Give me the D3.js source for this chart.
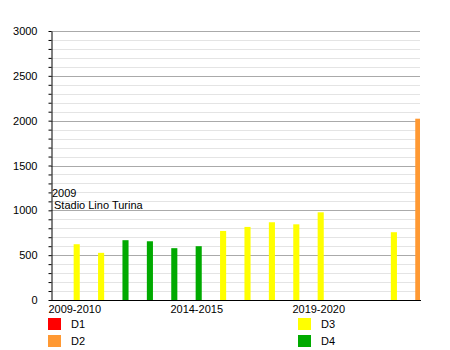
<!DOCTYPE html>
<html>
<head>
<meta charset="utf-8">
<script src="https://cdn.jsdelivr.net/npm/d3@7"></script>
<style>
body { margin: 0; background: #fff; }
svg { font-family: "Liberation Sans", Arial, sans-serif; font-size: 11px; }
</style>
</head>
<body>
<svg id="chart" width="450" height="350"></svg>
<script>
var seasons = ['2009-2010', '2010-2011', '2011-2012', '2012-2013', '2013-2014',
    '2014-2015', '2015-2016', '2016-2017', '2017-2018', '2018-2019',
    '2019-2020', '2020-2021', '2021-2022', '2022-2023', '2023-2024'];
var values = [622, 526, 667, 655, 578, 600, 770, 815, 867, 844, 978, null, null, 756, 2022];
var divisions = ['D3', 'D3', 'D4', 'D4', 'D4', 'D4', 'D3', 'D3', 'D3', 'D3', 'D3', null, null, 'D3', 'D2'];
var labelSeasons = ['2009-2010', '2014-2015', '2019-2020'];
var legendKeys = ['D1', 'D2', 'D3', 'D4'];
var legendColors = ['#ff0000', '#ff9933', '#ffff00', '#00aa00'];
var note = ['2009', 'Stadio Lino Turina'];

var svg = d3.select('#chart');
var plotLeft = 51, plotRight = 420, plotTop = 31, plotBottom = 300;

var color = d3.scaleOrdinal().domain(legendKeys).range(legendColors);
var x = d3.scaleBand().domain(seasons).range([64.5, 430.5]).paddingInner(0.75).paddingOuter(0.375);
var y = d3.scaleLinear().domain([0, 3000]).range([plotBottom, plotTop]);

// grid lines
var grid = svg.append('g');
grid.selectAll('line.minor').data(d3.range(100, 3001, 100).filter(function(d) { return d % 500; }))
    .enter().append('line').attr('class', 'minor')
    .attr('x1', plotLeft).attr('x2', plotRight)
    .attr('y1', function(d) { return Math.round(y(d)) + 0.5; })
    .attr('y2', function(d) { return Math.round(y(d)) + 0.5; })
    .attr('stroke', '#e4e4e4');
grid.selectAll('line.major').data(d3.range(500, 3001, 500))
    .enter().append('line').attr('class', 'major')
    .attr('x1', plotLeft).attr('x2', plotRight)
    .attr('y1', function(d) { return Math.round(y(d)) + 0.5; })
    .attr('y2', function(d) { return Math.round(y(d)) + 0.5; })
    .attr('stroke', '#aaa');

// bars
svg.append('clipPath').attr('id', 'plot').append('rect')
    .attr('x', plotLeft).attr('y', plotTop)
    .attr('width', plotRight - plotLeft).attr('height', plotBottom - plotTop);
svg.append('g').attr('clip-path', 'url(#plot)')
    .selectAll('rect').data(seasons.filter(function(d, i) { return values[i] != null; }))
    .enter().append('rect')
    .attr('x', function(d) { return x(d); })
    .attr('width', x.bandwidth())
    .attr('y', function(d) { return y(values[seasons.indexOf(d)]); })
    .attr('height', function(d) { return plotBottom - y(values[seasons.indexOf(d)]); })
    .attr('fill', function(d) { return color(divisions[seasons.indexOf(d)]); });

// y axis
var yAxis = svg.append('g').attr('transform', 'translate(' + (plotLeft + 0.5) + ',0)')
    .call(d3.axisLeft(y).tickValues(d3.range(0, 3001, 100)).tickSize(3).tickSizeOuter(0)
        .tickFormat(function(d) { return d % 500 ? '' : d; }));
yAxis.select('.domain').attr('stroke', '#000');
yAxis.selectAll('.tick line').attr('stroke', '#000');
yAxis.selectAll('.tick text').attr('x', -14).attr('fill', '#000')
    .style('font-size', '11px').style('font-family', '"Liberation Sans", Arial, sans-serif');

// x axis
svg.append('line').attr('x1', plotLeft).attr('x2', plotRight + 1)
    .attr('y1', plotBottom + 0.5).attr('y2', plotBottom + 0.5).attr('stroke', '#000');
svg.append('g').selectAll('text').data(labelSeasons).enter().append('text')
    .attr('x', function(d) { return x(d) + x.bandwidth() / 2 - 2; })
    .attr('y', plotBottom + 13)
    .attr('text-anchor', 'middle')
    .text(function(d) { return d; });

// note
svg.append('g').selectAll('text').data(note).enter().append('text')
    .attr('x', function(d, i) { return i ? 54 : 52; })
    .attr('y', function(d, i) { return 197 + i * 12; })
    .text(function(d) { return d; });

// legend
var lg = svg.append('g').selectAll('g').data(legendKeys).enter().append('g')
    .attr('transform', function(d, i) {
        return 'translate(' + (i < 2 ? 48 : 298) + ',' + (318 + (i % 2) * 17) + ')';
    });
lg.append('rect').attr('width', 13).attr('height', 12).attr('fill', function(d) { return color(d); });
lg.append('text').attr('x', 23).attr('y', 10).text(function(d) { return d; });
</script>
</body>
</html>
